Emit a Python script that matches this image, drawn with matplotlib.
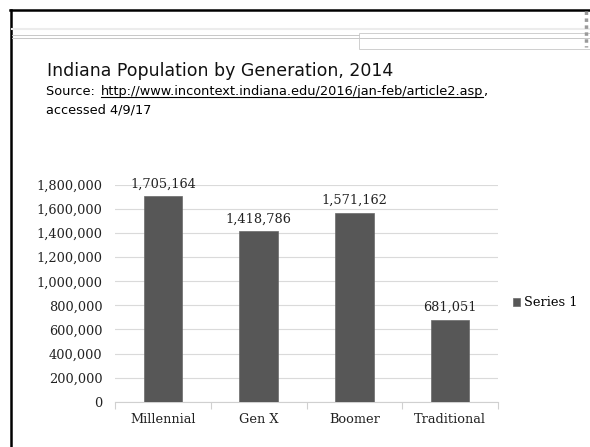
import matplotlib.pyplot as plt
from matplotlib.lines import Line2D
from matplotlib.patches import Rectangle

# data
categories = ['Millennial', 'Gen X', 'Boomer', 'Traditional']
population = [1705164, 1418786, 1571162, 681051]
series_name = 'Series 1'
yticks = list(range(0, 1800001, 200000))

W, H = 590, 447
fig = plt.figure(figsize=(W / 100, H / 100), dpi=100)

def fx(px):
    return px / W

def fy(py):
    return 1 - py / H

# slide frame and header decorations
fig.add_artist(Line2D([fx(11), fx(11)], [fy(10), 0], color='black', lw=1.8))
fig.add_artist(Line2D([fx(10), 1], [fy(10), fy(10)], color='black', lw=1.8))
fig.add_artist(Line2D([fx(12), 1], [fy(29), fy(29)], color='#ececec', lw=1.5))
fig.add_artist(Line2D([fx(12), fx(359)], [fy(34.5), fy(34.5)], color='#c8c8c8', lw=0.7))
fig.add_artist(Line2D([fx(12), 1], [fy(38), fy(38)], color='#c8c8c8', lw=0.7))
fig.add_artist(Rectangle((fx(359), fy(49)), 1 - fx(359), fy(33) - fy(49),
                         fill=False, edgecolor='#cfcfcf', lw=0.7))
fig.add_artist(Line2D([fx(586), fx(586)], [fy(11), fy(47)], color='#9a9a9a', lw=2.5, ls=(0, (1, 1))))

# title and source
fig.text(fx(47), fy(76), 'Indiana Population by Generation, 2014',
         fontsize=12.5, family='DejaVu Sans', va='baseline', ha='left', color='#111111')
src = fig.text(fx(46), fy(95), 'Source: ', fontsize=9.3, family='DejaVu Sans', va='baseline', ha='left')
renderer = fig.canvas.get_renderer()
x0 = src.get_window_extent(renderer).x1
url = fig.text(x0 / W + 0.003, fy(95), 'http://www.incontext.indiana.edu/2016/jan-feb/article2.asp',
               fontsize=9.3, family='DejaVu Sans', va='baseline', ha='left')
ext = url.get_window_extent(renderer)
fig.add_artist(Line2D([ext.x0 / W, ext.x1 / W], [fy(97.3), fy(97.3)], color='black', lw=0.8))
fig.text(ext.x1 / W, fy(95), ',', fontsize=9.3, family='DejaVu Sans', va='baseline', ha='left')
fig.text(fx(46), fy(113.5), 'accessed 4/9/17', fontsize=9.3, family='DejaVu Sans', va='baseline', ha='left')

# chart
ax = fig.add_axes([fx(115), fy(401.7), fx(498) - fx(115), fy(185) - fy(401.7)])
x = range(len(categories))
bars = ax.bar(x, population, width=0.4, color='#575757', edgecolor='#6a6a6a', lw=0.5,
              label=series_name, zorder=3)
ax.set_xlim(-0.5, len(categories) - 0.5)
ax.set_ylim(0, 1800000)
ax.set_yticks(yticks)
ax.set_yticklabels([f'{v:,}' for v in yticks], family='DejaVu Serif', fontsize=9.3, color='#222222')
ax.set_xticks(list(x))
ax.set_xticklabels(categories, family='DejaVu Serif', fontsize=9.3, color='#222222')
ax.set_xticks([i - 0.5 for i in range(len(categories) + 1)], minor=True)
ax.tick_params(axis='y', length=0, pad=9)
ax.tick_params(axis='x', which='major', length=0, pad=8)
ax.tick_params(axis='x', which='minor', length=5, color='#d0d0d0', width=0.8)
ax.grid(axis='y', color='#dadada', lw=0.8, zorder=0)
for s in ['top', 'right', 'left']:
    ax.spines[s].set_visible(False)
ax.spines['bottom'].set_color('#d0d0d0')
ax.spines['bottom'].set_linewidth(0.8)

for b, v in zip(bars, population):
    ax.annotate(f'{v:,}', (b.get_x() + b.get_width() / 2, v), xytext=(0, 4),
                textcoords='offset points', ha='center', va='bottom',
                family='DejaVu Serif', fontsize=9.3, color='#222222')

ax.legend(loc='center left', bbox_to_anchor=(fx(501), fy(302.7)), bbox_transform=fig.transFigure,
          frameon=False, handlelength=0.55, handleheight=0.55, handletextpad=0.3,
          prop={'family': 'DejaVu Serif', 'size': 9.3})

fig.savefig('out.png', dpi=100)
